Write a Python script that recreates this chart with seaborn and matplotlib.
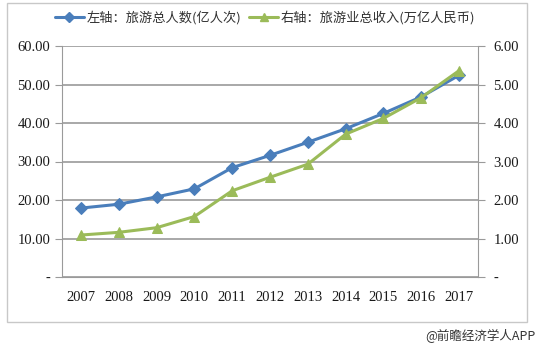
import matplotlib
matplotlib.use("Agg")
import matplotlib.pyplot as plt
import seaborn as sns
import pandas as pd
from matplotlib.patches import Rectangle
from matplotlib.lines import Line2D
from matplotlib.ticker import FixedLocator, FuncFormatter

years = ["2007", "2008", "2009", "2010", "2011", "2012", "2013", "2014", "2015", "2016", "2017"]
visitors = [17.9, 18.9, 20.8, 22.9, 28.4, 31.6, 35.0, 38.5, 42.5, 46.8, 52.4]
revenue = [1.09, 1.16, 1.28, 1.57, 2.24, 2.59, 2.93, 3.71, 4.12, 4.66, 5.36]
label_left = "左轴：旅游总人数(亿人次)"
label_right = "右轴：旅游业总收入(万亿人民币)"
left_ticks = [0, 10, 20, 30, 40, 50, 60]
right_ticks = [0, 1, 2, 3, 4, 5, 6]

sns.set_style("white")
plt.rcParams["font.family"] = ["Liberation Serif", "Noto Sans CJK SC", "DejaVu Sans"]

df = pd.DataFrame({"x": range(len(years)), "visitors": visitors, "revenue": revenue})

blue = "#4A7EBB"
green = "#9BBB59"
grid_c = "#9a9a9a"

fig = plt.figure(figsize=(5.4, 3.47), dpi=100)
ax = fig.add_axes([62/540, 70/347, 416/540, 231/347])
ax2 = ax.twinx()

sns.lineplot(data=df, x="x", y="visitors", ax=ax, color=blue, marker="D",
             markersize=6, linewidth=2.2, markeredgecolor=blue)
sns.lineplot(data=df, x="x", y="revenue", ax=ax2, color=green, marker="^",
             markersize=7.5, linewidth=2.2, markeredgecolor=green)

ax.set_xlim(-0.5, len(years) - 0.5)
ax.set_ylim(0, 60)
ax2.set_ylim(0, 6)

fmt_l = FuncFormatter(lambda v, p: "-" if v == 0 else f"{v:.2f}")
ax.yaxis.set_major_locator(FixedLocator(left_ticks))
ax.yaxis.set_major_formatter(fmt_l)
ax2.yaxis.set_major_locator(FixedLocator(right_ticks))
ax2.yaxis.set_major_formatter(fmt_l)

ax.set_xticks(range(len(years)))
ax.set_xticklabels(years)
ax.set_xticks([i - 0.5 for i in range(len(years) + 1)], minor=True)
ax.tick_params(axis="x", which="major", length=0, labelsize=10.5, pad=10, colors="#1a1a1a")
ax.tick_params(axis="x", which="minor", length=4, color=grid_c, direction="out")
ax.tick_params(axis="y", length=5, color=grid_c, labelsize=10.5, colors="#1a1a1a", direction="out")
ax2.tick_params(axis="y", length=5, color=grid_c, labelsize=10.5, colors="#1a1a1a", direction="out", pad=6)

ax.set_xlabel("")
ax.set_ylabel("")
ax2.set_ylabel("")

ax.yaxis.grid(True, color=grid_c, linewidth=1.2)
ax.set_axisbelow(True)
for a in (ax, ax2):
    for s in a.spines.values():
        s.set_visible(False)
ax.spines["left"].set_visible(True)
ax.spines["left"].set_color(grid_c)
ax.spines["bottom"].set_visible(True)
ax.spines["bottom"].set_color(grid_c)
ax2.spines["right"].set_visible(True)
ax2.spines["right"].set_color(grid_c)

handles = [
    Line2D([], [], color=blue, marker="D", markersize=5, linewidth=2.2),
    Line2D([], [], color=green, marker="^", markersize=6, linewidth=2.2),
]
fig.legend(handles, [label_left, label_right], loc="center", ncol=2,
           bbox_to_anchor=(265/540, 1 - 18/347), frameon=False,
           prop={"family": ["Noto Sans CJK SC"], "size": 9.5},
           handlelength=2.2, columnspacing=0.6, handletextpad=0.2,
           labelcolor="#333333")

fig.patches.append(Rectangle((7/540, 25/347), 520/540, 319/347, transform=fig.transFigure,
                             fill=False, edgecolor="#c8c8c8", linewidth=1.0))
fig.text(535/540, 1 - 336/347, "@前瞻经济学人APP", ha="right", va="center",
         fontsize=9, color="#333333", family=["Noto Sans CJK SC"])

fig.savefig("out.png", dpi=100)
